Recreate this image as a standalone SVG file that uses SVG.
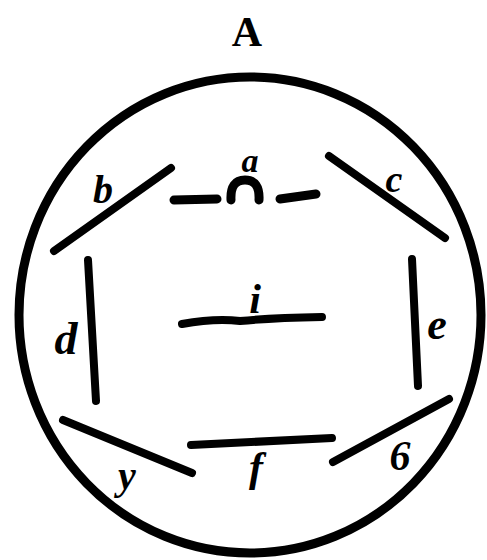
<svg xmlns="http://www.w3.org/2000/svg" width="487" height="560" viewBox="0 0 487 560">
<style>
.seg{stroke:#000;stroke-width:8;stroke-linecap:round;fill:none}
.lbl{font-family:"Liberation Serif","DejaVu Serif",serif;font-weight:bold;font-style:italic;fill:#000;text-anchor:middle}
</style>
<rect width="487" height="560" fill="#fff"/>
<g id="outline">
<ellipse cx="250" cy="315" rx="231" ry="238" fill="none" stroke="#000" stroke-width="9"/>
<text class="lbl" x="247" y="46" font-size="42" style="font-style:normal">A</text>
</g>
<g id="connectors">
</g>
<g id="node-a">
<path class="seg" d="M174,200 L217,199" style="stroke-width:9"/>
<path class="seg" d="M231,200 Q230,180 245,180 Q260,180 259,200" style="stroke-width:9"/>
<path class="seg" d="M280,199 L316,194" style="stroke-width:9"/>
<text class="lbl" x="250" y="172" font-size="34">a</text>
</g>
<g id="node-b">
<path class="seg" d="M54,251 L171,168"/>
<text class="lbl" x="103" y="203" font-size="40">b</text>
</g>
<g id="node-c">
<path class="seg" d="M329,156 L445,238"/>
<text class="lbl" x="394" y="192" font-size="38">c</text>
</g>
<g id="node-d">
<path class="seg" d="M88,260 L96,401"/>
<text class="lbl" x="66" y="354" font-size="46">d</text>
</g>
<g id="node-e">
<path class="seg" d="M412,259 L418,386"/>
<text class="lbl" x="437" y="339" font-size="44">e</text>
</g>
<g id="node-i">
<path class="seg" d="M182,324 Q215,318 240,321 Q270,318 322,317"/>
<text class="lbl" x="255" y="313" font-size="42">i</text>
</g>
<g id="node-y">
<path class="seg" d="M63,420 L192,473"/>
<text class="lbl" x="127" y="489" font-size="40">y</text>
</g>
<g id="node-f">
<path class="seg" d="M191,445 L332,438"/>
<text class="lbl" x="256" y="481" font-size="42">f</text>
</g>
<g id="node-6">
<path class="seg" d="M333,462 L449,399"/>
<text class="lbl" x="400" y="470" font-size="42">6</text>
</g>
</svg>
